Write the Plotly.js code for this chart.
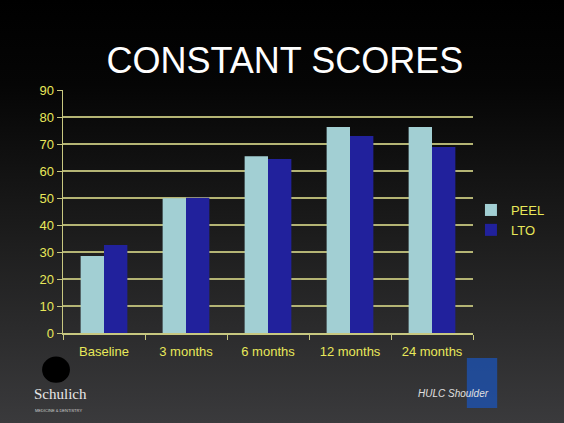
<!DOCTYPE html>
<html>
<head>
<meta charset="utf-8">
<script src="https://cdn.plot.ly/plotly-3.0.1.min.js"></script>
<style>
html,body{margin:0;padding:0;}
body{width:564px;height:423px;background:linear-gradient(to bottom,#000000 0%,#050505 20%,#1c1c1c 55%,#3a3a3c 100%);overflow:hidden;}
#chart{width:564px;height:423px;}
</style>
</head>
<body>
<div id="chart"></div>
<script>
const categories = ['Baseline', '3 months', '6 months', '12 months', '24 months'];
const peel = [28.5, 49.9, 65.5, 76.3, 76.3];
const lto = [32.6, 50.1, 64.4, 73.0, 68.9];
const yTicks = [0, 10, 20, 30, 40, 50, 60, 70, 80, 90];

const yellow = '#e8e85a';
const traces = [
  {type: 'bar', name: 'PEEL', x: categories, y: peel,
   marker: {color: '#a2cfd3'}},
  {type: 'bar', name: 'LTO', x: categories, y: lto,
   marker: {color: '#21219c'}}
];

const layout = {
  width: 564, height: 423,
  paper_bgcolor: 'rgba(0,0,0,0)',
  plot_bgcolor: 'rgba(0,0,0,0)',
  margin: {l: 63, r: 91, t: 90, b: 90, autoexpand: false},
  title: {text: 'CONSTANT SCORES', x: 0.505, xanchor: 'center', y: 0.858, yanchor: 'middle',
          font: {family: 'Liberation Sans, Arial, sans-serif', size: 36, color: '#ffffff'}},
  barmode: 'group',
  bargap: 0.43,
  bargroupgap: 0,
  font: {family: 'Liberation Sans, Arial, sans-serif', color: yellow, size: 13},
  xaxis: {
    showgrid: false, showline: true, linecolor: '#c8c880', linewidth: 1.5,
    ticks: 'outside', tickson: 'boundaries', ticklen: 5, tickcolor: '#c8c880',
    ticklabelstandoff: 6, automargin: false,
    tickfont: {size: 13, color: yellow}, fixedrange: true
  },
  yaxis: {
    range: [0, 90], tickvals: yTicks, showgrid: true, gridcolor: '#b4b474', gridwidth: 1.2,
    showline: true, linecolor: '#c8c880', linewidth: 1.5, zeroline: false,
    ticks: 'outside', ticklen: 5, tickcolor: '#c8c880', automargin: false,
    tickfont: {size: 13, color: yellow}, fixedrange: true
  },
  legend: {x: 0.995, xanchor: 'left', y: 0.465, yanchor: 'middle',
           font: {size: 13, color: yellow}, bgcolor: 'rgba(0,0,0,0)',
           itemwidth: 30, tracegroupgap: 2},
  showlegend: true,
  annotations: [
    {text: 'Schulich', xref: 'paper', yref: 'paper', x: -0.076, y: -0.252, xanchor: 'left', yanchor: 'middle',
     showarrow: false, font: {family: 'Liberation Serif, serif', size: 15, color: '#e8e8e8'}},
    {text: 'MEDICINE & DENTISTRY', xref: 'paper', yref: 'paper', x: -0.074, y: -0.318, xanchor: 'left', yanchor: 'middle',
     showarrow: false, font: {family: 'Liberation Sans, sans-serif', size: 4, color: '#d0d0d0'}},
    {text: '<i>HULC Shoulder</i>', xref: 'paper', yref: 'paper', x: 0.862, y: -0.251, xanchor: 'left', yanchor: 'middle',
     showarrow: false, font: {family: 'Liberation Sans, sans-serif', size: 10, color: '#e0e0e0'}}
  ],
  shapes: [
    {type: 'circle', xref: 'paper', yref: 'paper', x0: -0.051, x1: 0.017, y0: -0.205, y1: -0.097,
     fillcolor: '#000000', line: {width: 0}},
    {type: 'rect', xref: 'paper', yref: 'paper', x0: 0.985, x1: 1.059, y0: -0.309, y1: -0.103,
     fillcolor: '#1a55c0', opacity: 0.7, line: {width: 0}, layer: 'below'}
  ]
};

Plotly.newPlot('chart', traces, layout, {displayModeBar: false, staticPlot: true});
</script>
</body>
</html>
